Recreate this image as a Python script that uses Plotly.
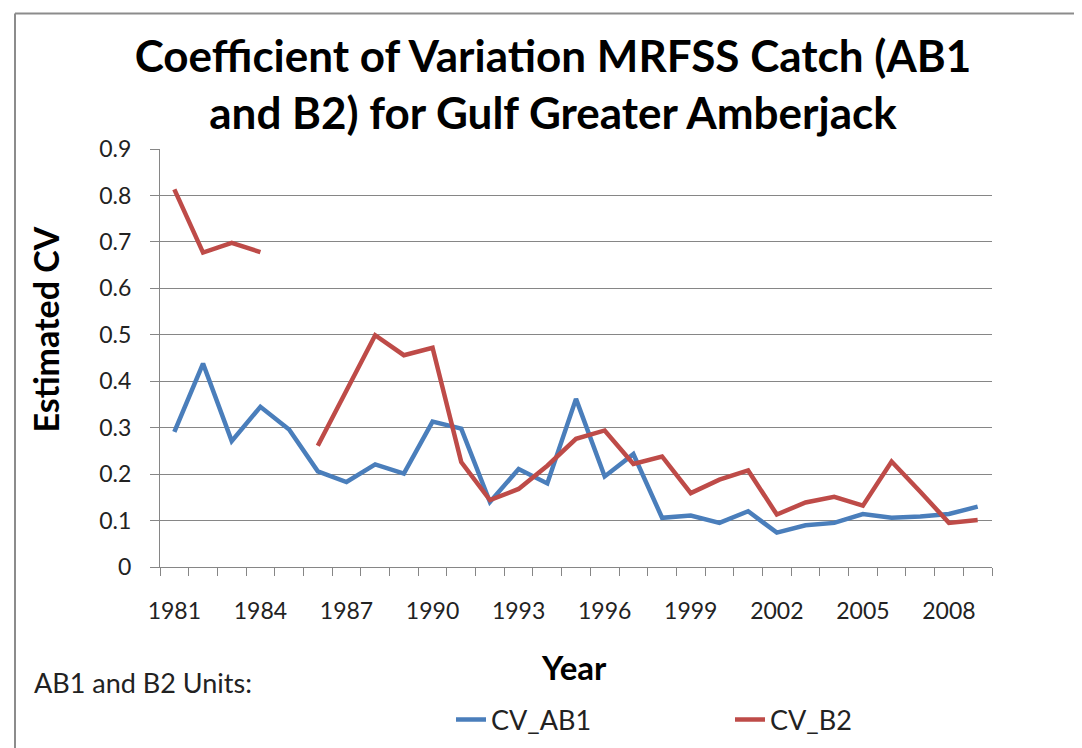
import plotly.graph_objects as go

years = list(range(1981, 2010))
cv_ab1 = [0.291, 0.438, 0.271, 0.345, 0.296, 0.206, 0.183, 0.221, 0.201, 0.313,
          0.298, 0.140, 0.211, 0.180, 0.362, 0.195, 0.243, 0.106, 0.111, 0.095,
          0.120, 0.074, 0.090, 0.095, 0.114, 0.106, 0.109, 0.114, 0.130]
cv_b2 = [0.813, 0.677, 0.698, 0.678, None, 0.261, 0.381, 0.499, 0.456, 0.472,
         0.226, 0.144, 0.168, 0.218, 0.276, 0.294, 0.222, 0.238, 0.159, 0.188,
         0.208, 0.113, 0.139, 0.151, 0.132, 0.227, 0.162, 0.095, 0.101]
x_tick_years = list(range(1981, 2010, 3))
y_ticks = [0, 0.1, 0.2, 0.3, 0.4, 0.5, 0.6, 0.7, 0.8, 0.9]
y_tick_text = ["0", "0.1", "0.2", "0.3", "0.4", "0.5", "0.6", "0.7", "0.8", "0.9"]

W, H = 1082, 748
L, R, T, B = 152, 98, 141, 181
PW, PH = W - L - R, H - T - B


def px(x):
    return (x - L) / PW


def py(y):
    return (H - B - y) / PH


FONT = "Lato, 'Open Sans', sans-serif"
GRID = "#868686"

fig = go.Figure()
fig.add_trace(go.Scatter(x=years, y=cv_ab1, name="CV_AB1", mode="lines",
                         line=dict(color="#4A7EBB", width=4.5)))
fig.add_trace(go.Scatter(x=years, y=cv_b2, name="CV_B2", mode="lines",
                         connectgaps=False,
                         line=dict(color="#BE4B48", width=4.5)))

fig.update_layout(
    width=W, height=H,
    margin=dict(l=L, r=R, t=T, b=B),
    paper_bgcolor="white", plot_bgcolor="white",
    font=dict(family=FONT, color="#222222", size=23),
    title=dict(
        text="<b>Coefficient of Variation MRFSS Catch (AB1<br>and B2) for Gulf Greater Amberjack</b>",
        x=545 / W, xanchor="center", y=1 - 64 / H, yanchor="middle",
        font=dict(family=FONT, size=44, color="#000000"),
    ),
    showlegend=True,
    legend=dict(orientation="h", x=px(443), xanchor="left",
                y=py(723), yanchor="middle",
                entrywidth=234, entrywidthmode="pixels",
                font=dict(family=FONT, size=27, color="#222222"),
                bgcolor="rgba(0,0,0,0)"),
)

fig.update_xaxes(
    range=[1980.5, 2009.5],
    tickmode="array", tickvals=x_tick_years,
    ticks="", ticklabelstandoff=23,
    showgrid=False, zeroline=False,
    showline=True, linecolor=GRID, linewidth=1,
    minor=dict(ticks="outside", tick0=1980.5, dtick=1, ticklen=8,
               tickcolor=GRID, tickwidth=1, showgrid=False),
    tickfont=dict(size=23),
)
fig.update_yaxes(
    range=[0, 0.9],
    tickmode="array", tickvals=y_ticks, ticktext=y_tick_text,
    ticks="outside", ticklen=9, tickcolor=GRID, tickwidth=1,
    ticklabelstandoff=14,
    showgrid=True, gridcolor=GRID, gridwidth=1,
    zeroline=False,
    showline=True, linecolor=GRID, linewidth=1,
    tickfont=dict(size=23),
)

fig.add_annotation(text="<b>Estimated CV</b>", textangle=-90,
                   xref="paper", yref="paper", x=px(38), y=py(325),
                   xanchor="center", yanchor="middle", showarrow=False,
                   font=dict(family=FONT, size=34, color="#000000"))
fig.add_annotation(text="<b>Year</b>",
                   xref="paper", yref="paper", x=px(566), y=py(669),
                   xanchor="center", yanchor="middle", showarrow=False,
                   font=dict(family=FONT, size=33, color="#000000"))
fig.add_annotation(text="AB1 and B2 Units:",
                   xref="paper", yref="paper", x=px(24), y=py(685),
                   xanchor="left", yanchor="middle", showarrow=False,
                   font=dict(family=FONT, size=27, color="#222222"))

# outer chart border
BORDER = "#8c8c8c"
fig.add_shape(type="line", xref="paper", yref="paper",
              x0=px(7), x1=px(7), y0=py(3), y1=py(760),
              line=dict(color=BORDER, width=2))
fig.add_shape(type="line", xref="paper", yref="paper",
              x0=px(7), x1=px(1078), y0=py(3), y1=py(3),
              line=dict(color=BORDER, width=2))
fig.add_shape(type="line", xref="paper", yref="paper",
              x0=px(1078), x1=px(1078), y0=py(3), y1=py(760),
              line=dict(color=BORDER, width=2))

fig.write_html("out.html")
